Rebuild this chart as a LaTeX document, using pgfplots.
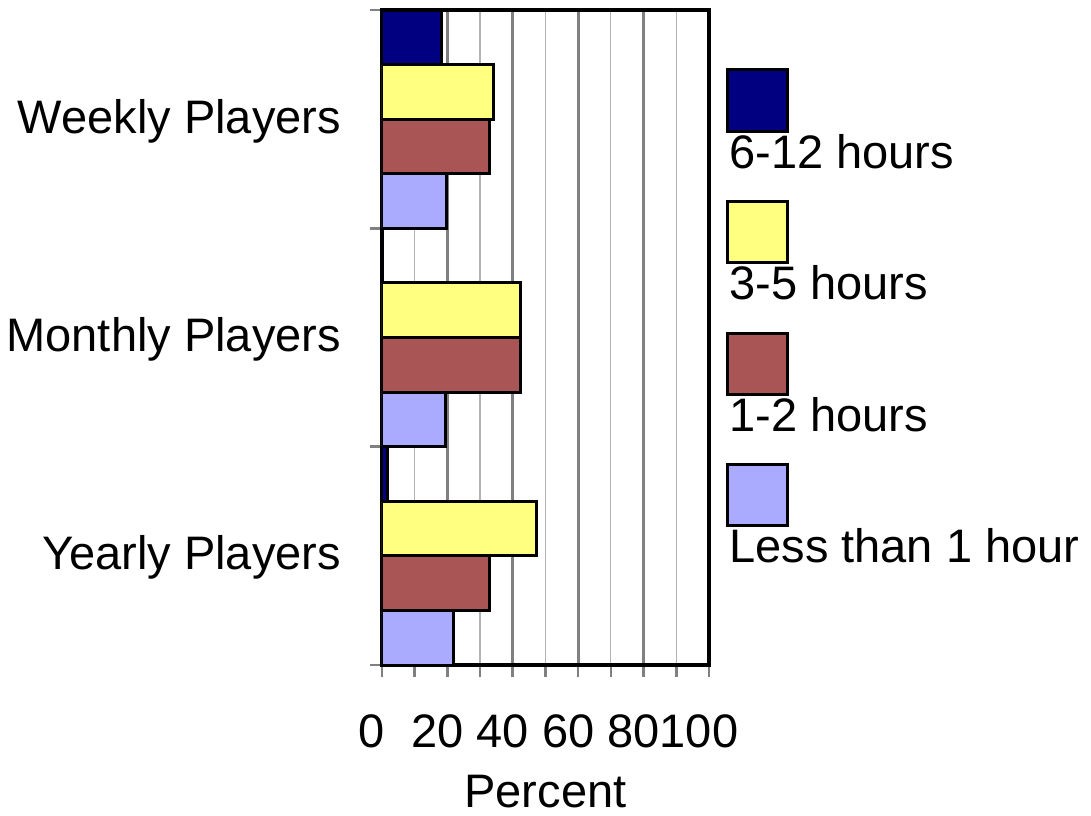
\documentclass[border=0pt]{standalone}
\usepackage{fontspec}
\setmainfont{Liberation Sans}
\usepackage{pgfplots}
\pgfplotsset{compat=1.18}
\definecolor{navybar}{RGB}{0,0,128}
\definecolor{yellowbar}{RGB}{255,255,128}
\definecolor{brownbar}{RGB}{170,85,85}
\definecolor{lavbar}{RGB}{170,170,255}
\newcommand{\bigfont}{\fontsize{23.5}{28}\selectfont}
\pgfplotsset{
  myleg/.style={legend image code/.code={\draw[##1,line width=1.5pt,overlay] (-1pt,10pt) rectangle (29pt,40.5pt);}},
}
\begin{document}
\begin{tikzpicture}
\useasboundingbox (-191pt,-75pt) rectangle (354.5pt,332.5pt);
\begin{axis}[
  at={(0,0)}, anchor=south west,
  scale only axis, width=163.5pt, height=327.5pt,
  xbar, bar width=0.25,
  xmin=0, xmax=100, ymin=-0.5, ymax=2.5,
  xtick={0,20,...,100}, minor xtick={10,30,...,90},
  ytick={-0.5,0.5,1.5,2.5}, yticklabels={},
  extra y ticks={0,1,2},
  extra y tick labels={Yearly Players,Monthly Players,Weekly Players},
  extra y tick style={major tick length=0pt, tick style={draw=none},
    yticklabel style={xshift=-17pt, yshift=-1pt}},
  tick pos=left,
  xmajorgrids, xminorgrids,
  major grid style={color=gray, line width=1.5pt},
  minor grid style={color=black!30, line width=0.6pt},
  tick align=outside, major tick length=6pt, minor tick length=6pt,
  tick style={gray, line width=1.3pt},
  axis line style={black, line width=1.6pt},
  tick label style={font=\bigfont},
  /pgf/number format/assume math mode=true,
  xticklabel style={anchor=base, xshift=-5pt, yshift=-35pt},
  xlabel={Percent},
  xlabel style={font=\bigfont, at={(axis description cs:0.5,0)}, anchor=base, yshift=-71pt},
  legend style={font=\bigfont, draw=none, fill=none, inner sep=0pt, outer sep=0pt,
    row sep=48.8pt, column sep=0pt, anchor=north west,
    at={(axis description cs:1.062,0.8107)},
    nodes={text height=17pt, text depth=0pt, inner sep=0pt}},
  legend cell align=left,
]
\addplot[draw=black, line width=1.5pt, fill=navybar, bar shift=0.375, myleg]
  coordinates {(1.8,0) (0,1) (18.3,2)};
\addplot[draw=black, line width=1.5pt, fill=yellowbar, bar shift=0.125, myleg]
  coordinates {(47.4,0) (42.3,1) (34.2,2)};
\addplot[draw=black, line width=1.5pt, fill=brownbar, bar shift=-0.125, myleg]
  coordinates {(32.9,0) (42.3,1) (32.9,2)};
\addplot[draw=black, line width=1.5pt, fill=lavbar, bar shift=-0.375, myleg]
  coordinates {(21.9,0) (19.3,1) (19.6,2)};
\legend{6-12 hours,3-5 hours,1-2 hours,Less than 1 hour}
\end{axis}
\end{tikzpicture}
\end{document}
